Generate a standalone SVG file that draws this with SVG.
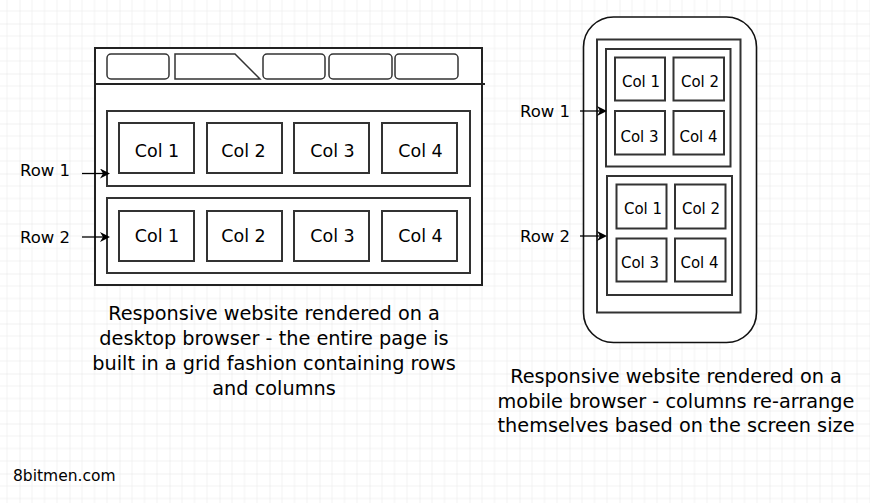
<svg xmlns="http://www.w3.org/2000/svg" width="870" height="503" viewBox="0 0 870 503">
  <defs>
    <pattern id="grid" x="19.5" y="23.5" width="50" height="50" patternUnits="userSpaceOnUse">
      <path d="M12.5,0V50M25,0V50M37.5,0V50M0,12.5H50M0,25H50M0,37.5H50" stroke="#f2f2f2" stroke-width="1" fill="none"/>
      <path d="M0,0V50M0,0H50" stroke="#e3e3e3" stroke-width="1" fill="none"/>
    </pattern>
    <marker id="arrow" markerUnits="userSpaceOnUse" markerWidth="10" markerHeight="10" refX="4" refY="5" orient="auto">
      <path d="M0,0 L10,5 L0,10 L3,5 Z" fill="#000"/>
    </marker>
    <style>
      .box { fill: #fff; stroke: #333; stroke-width: 2; }
      .frame { fill: #fff; stroke: #222; stroke-width: 2; }
      .tab { fill: #fff; stroke: #333; stroke-width: 1.5; }
      .t { font-family: "DejaVu Sans", sans-serif; fill: #000; text-anchor: middle; }
      .col { font-size: 17.5px; }
      .mcol { font-size: 15px; }
      .row { font-size: 16.5px; }
      .cap { font-size: 19.3px; }
      .link { stroke: #000; stroke-width: 1.3; fill: none; marker-end: url(#arrow); }
    </style>
  </defs>
  <rect width="870" height="503" fill="#fff"/>
  <rect width="870" height="503" fill="url(#grid)"/>

  <!-- Desktop browser -->
  <g id="desktop-browser">
    <rect class="frame" x="95" y="48" width="387" height="237"/>
    <line x1="95" y1="84" x2="485" y2="84" stroke="#222" stroke-width="2"/>
    <rect class="tab" x="107" y="54" width="62" height="25" rx="4"/>
    <path class="tab" d="M175,54 H235 L260,79 H175 Z"/>
    <rect class="tab" x="263" y="54" width="62" height="25" rx="4"/>
    <rect class="tab" x="329" y="54" width="63" height="25" rx="4"/>
    <rect class="tab" x="395" y="54" width="63" height="25" rx="4"/>
  </g>
  <g id="desktop-row1">
    <rect class="box" x="107" y="111" width="363" height="75"/>
  </g>
  <g id="desktop-row1-col1"><rect class="box" x="119" y="123" width="75" height="50"/><text class="t col" x="157" y="156.5">Col 1</text></g>
  <g id="desktop-row1-col2"><rect class="box" x="207" y="123" width="75" height="50"/><text class="t col" x="243.5" y="156.5">Col 2</text></g>
  <g id="desktop-row1-col3"><rect class="box" x="294" y="123" width="75" height="50"/><text class="t col" x="332.5" y="156.5">Col 3</text></g>
  <g id="desktop-row1-col4"><rect class="box" x="382" y="123" width="75" height="50"/><text class="t col" x="420.5" y="156.5">Col 4</text></g>
  <g id="desktop-row2">
    <rect class="box" x="107" y="198" width="363" height="75"/>
  </g>
  <g id="desktop-row2-col1"><rect class="box" x="119" y="211" width="75" height="50"/><text class="t col" x="157" y="241.5">Col 1</text></g>
  <g id="desktop-row2-col2"><rect class="box" x="207" y="211" width="75" height="50"/><text class="t col" x="243.5" y="241.5">Col 2</text></g>
  <g id="desktop-row2-col3"><rect class="box" x="294" y="211" width="75" height="50"/><text class="t col" x="332.5" y="241.5">Col 3</text></g>
  <g id="desktop-row2-col4"><rect class="box" x="382" y="211" width="75" height="50"/><text class="t col" x="420.5" y="241.5">Col 4</text></g>
  <g id="desktop-label-row1"><text class="t row" x="45" y="176">Row 1</text></g>
  <g id="desktop-label-row2"><text class="t row" x="45" y="243">Row 2</text></g>
  <g id="desktop-caption">
    <text class="t cap" x="274" y="320">Responsive website rendered on a</text>
    <text class="t cap" x="274" y="345">desktop browser - the entire page is</text>
    <text class="t cap" x="274" y="370">built in a grid fashion containing rows</text>
    <text class="t cap" x="274" y="395">and columns</text>
  </g>

  <!-- Mobile browser -->
  <g id="mobile-browser">
    <rect x="583.5" y="17" width="173" height="325.5" rx="30" ry="30" fill="#fff" stroke="#111" stroke-width="1.6"/>
    <rect class="box" x="597" y="39.5" width="143.5" height="273"/>
  </g>
  <g id="mobile-row1"><rect class="box" x="606" y="49" width="124.5" height="117.5"/></g>
  <g id="mobile-row1-col1"><rect class="box" x="615" y="57.5" width="50" height="43"/><text class="t mcol" x="641" y="87">Col 1</text></g>
  <g id="mobile-row1-col2"><rect class="box" x="673.5" y="57.5" width="50.5" height="43"/><text class="t mcol" x="700" y="87">Col 2</text></g>
  <g id="mobile-row1-col3"><rect class="box" x="615" y="111" width="50" height="43.5"/><text class="t mcol" x="639.5" y="141.5">Col 3</text></g>
  <g id="mobile-row1-col4"><rect class="box" x="673.5" y="111" width="50.5" height="43.5"/><text class="t mcol" x="698.5" y="141.5">Col 4</text></g>
  <g id="mobile-row2"><rect class="box" x="607" y="176" width="125" height="119"/></g>
  <g id="mobile-row2-col1"><rect class="box" x="616.5" y="184.5" width="50" height="44"/><text class="t mcol" x="643" y="213.5">Col 1</text></g>
  <g id="mobile-row2-col2"><rect class="box" x="675" y="184.5" width="50.5" height="44"/><text class="t mcol" x="701" y="213.5">Col 2</text></g>
  <g id="mobile-row2-col3"><rect class="box" x="616.5" y="238.5" width="50" height="43"/><text class="t mcol" x="640" y="267.5">Col 3</text></g>
  <g id="mobile-row2-col4"><rect class="box" x="675" y="238.5" width="50.5" height="43"/><text class="t mcol" x="699.5" y="267.5">Col 4</text></g>
  <g id="mobile-label-row1"><text class="t row" x="545" y="116.5">Row 1</text></g>
  <g id="mobile-label-row2"><text class="t row" x="545" y="241.5">Row 2</text></g>
  <g id="mobile-caption">
    <text class="t cap" x="676" y="383">Responsive website rendered on a</text>
    <text class="t cap" x="676" y="407.5">mobile browser - columns re-arrange</text>
    <text class="t cap" x="676" y="432">themselves based on the screen size</text>
  </g>

  <g id="footer"><text class="t" x="13" y="480.5" style="font-size:15.5px;text-anchor:start">8bitmen.com</text></g>

  <g id="connectors">
    <line class="link" x1="82" y1="173.5" x2="104" y2="173.5"/>
    <line class="link" x1="82" y1="237" x2="104" y2="237"/>
    <line class="link" x1="580" y1="111" x2="601" y2="111"/>
    <line class="link" x1="580" y1="236" x2="601" y2="236"/>
  </g>
</svg>
